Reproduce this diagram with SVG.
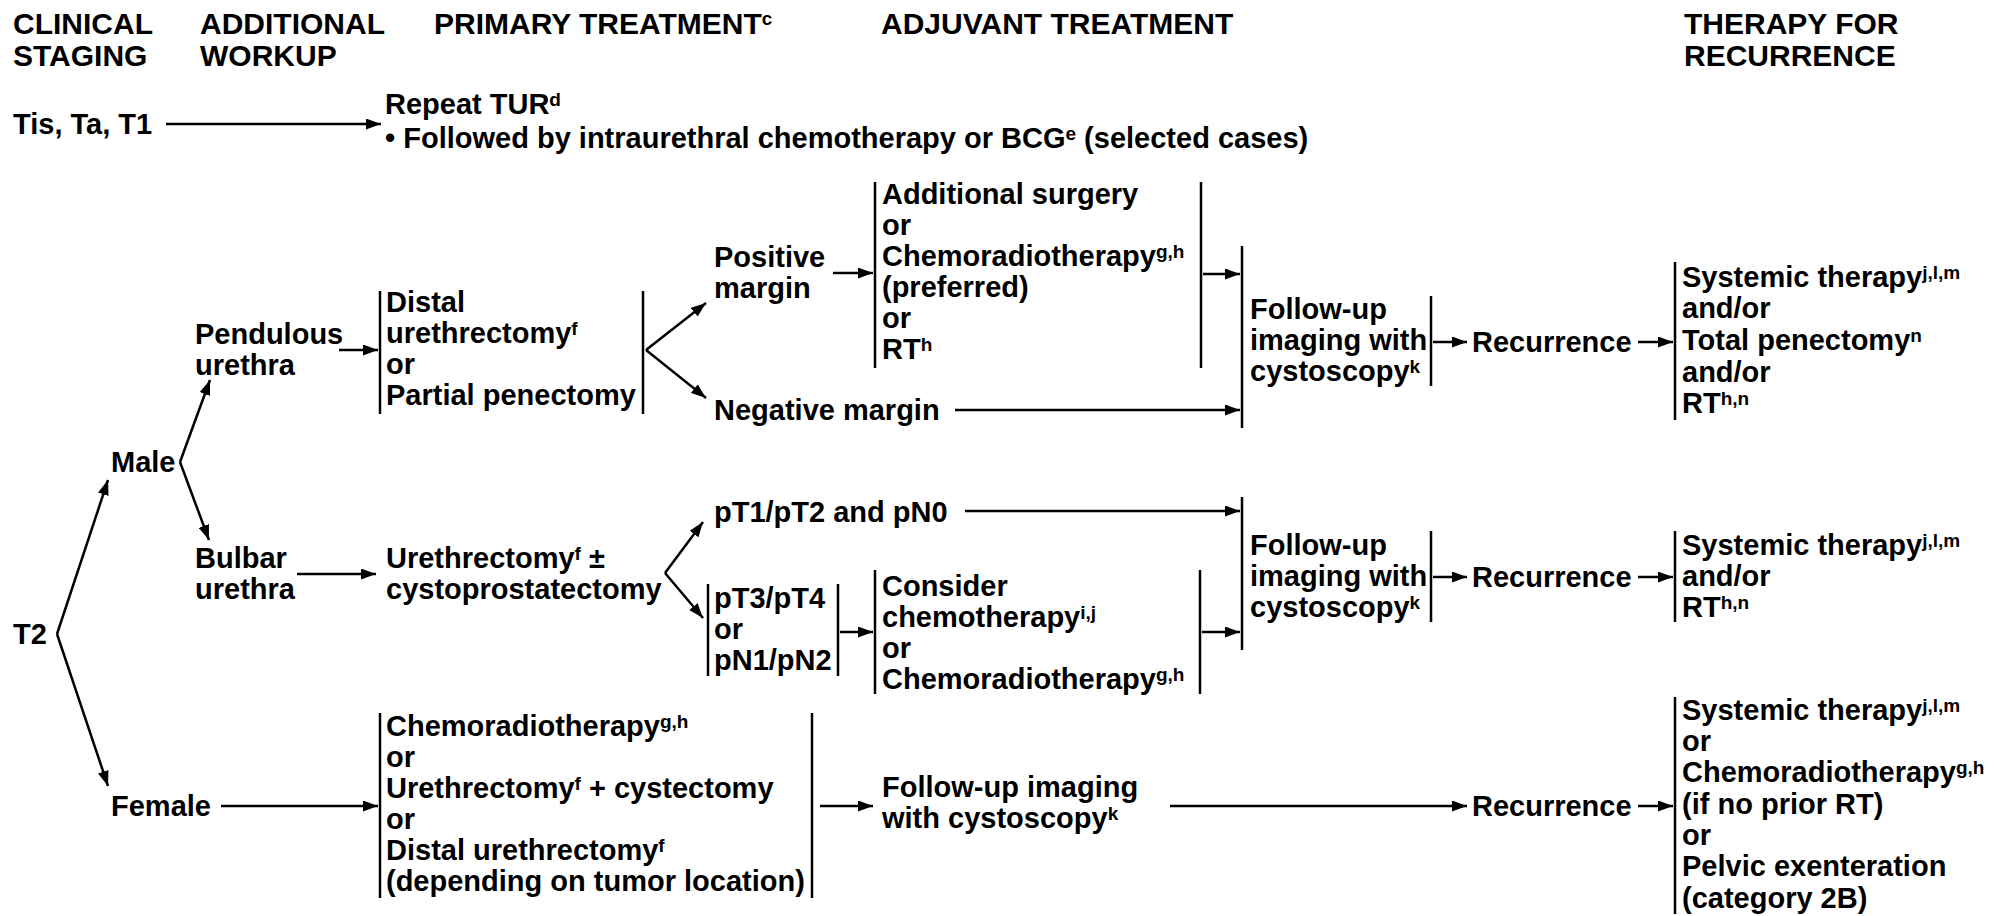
<svg xmlns="http://www.w3.org/2000/svg" width="1997" height="916" viewBox="0 0 1997 916">
<defs>
<style>
text { font-family: "Liberation Sans", Arial, Helvetica, sans-serif; font-weight: bold; font-size: 29px; fill: #000; }
.h { font-size: 30px; }
.s { font-size: 19px; }
.bar { stroke: #000; stroke-width: 2.5; fill: none; }
#connectors line { stroke: #000; stroke-width: 2.5; fill: none; marker-end: url(#ah); }
</style>
<marker id="ah" markerUnits="userSpaceOnUse" markerWidth="15" markerHeight="11" refX="15" refY="5.5" orient="auto">
<path d="M0,0 L15,5.5 L0,11 z" fill="#000"/>
</marker>
</defs>
<rect width="1997" height="916" fill="#fff"/>

<g id="headers">
<text class="h" x="13" y="34">CLINICAL</text>
<text class="h" x="13" y="66">STAGING</text>
<text class="h" x="200" y="34">ADDITIONAL</text>
<text class="h" x="200" y="66">WORKUP</text>
<text class="h" x="434" y="34">PRIMARY TREATMENT<tspan class="s" dy="-9">c</tspan></text>
<text class="h" x="881" y="34">ADJUVANT TREATMENT</text>
<text class="h" x="1684" y="34">THERAPY FOR</text>
<text class="h" x="1684" y="66">RECURRENCE</text>
</g>

<g id="n-tis"><text x="13" y="134">Tis, Ta, T1</text></g>
<g id="n-repeat">
<text x="385" y="114">Repeat TUR<tspan class="s" dy="-8">d</tspan></text>
<text x="385" y="148">• Followed by intraurethral chemotherapy or BCG<tspan class="s" dy="-8">e</tspan><tspan dy="8"> (selected cases)</tspan></text>
</g>

<g id="n-t2"><text x="13" y="644">T2</text></g>
<g id="n-male"><text x="111" y="472">Male</text></g>
<g id="n-female"><text x="111" y="816">Female</text></g>

<g id="n-pendulous">
<text x="195" y="344">Pendulous</text>
<text x="195" y="375">urethra</text>
</g>
<g id="n-bulbar">
<text x="195" y="568">Bulbar</text>
<text x="195" y="599">urethra</text>
</g>

<g id="n-distal">
<line class="bar" x1="380" y1="291" x2="380" y2="414"/>
<line class="bar" x1="643" y1="291" x2="643" y2="414"/>
<text x="386" y="312">Distal</text>
<text x="386" y="343">urethrectomy<tspan class="s" dy="-8">f</tspan></text>
<text x="386" y="374">or</text>
<text x="386" y="405">Partial penectomy</text>
</g>

<g id="n-urethrectomy">
<text x="386" y="568">Urethrectomy<tspan class="s" dy="-8">f</tspan><tspan dy="8"> ±</tspan></text>
<text x="386" y="599">cystoprostatectomy</text>
</g>

<g id="n-female-tx">
<line class="bar" x1="380" y1="713" x2="380" y2="898"/>
<line class="bar" x1="812" y1="713" x2="812" y2="898"/>
<text x="386" y="736">Chemoradiotherapy<tspan class="s" dy="-8">g,h</tspan></text>
<text x="386" y="767">or</text>
<text x="386" y="798">Urethrectomy<tspan class="s" dy="-8">f</tspan><tspan dy="8"> + cystectomy</tspan></text>
<text x="386" y="829">or</text>
<text x="386" y="860">Distal urethrectomy<tspan class="s" dy="-8">f</tspan></text>
<text x="386" y="891">(depending on tumor location)</text>
</g>

<g id="n-positive">
<text x="714" y="267">Positive</text>
<text x="714" y="298">margin</text>
</g>
<g id="n-negative"><text x="714" y="420">Negative margin</text></g>

<g id="n-additional">
<line class="bar" x1="875" y1="182" x2="875" y2="368"/>
<line class="bar" x1="1201" y1="182" x2="1201" y2="368"/>
<text x="882" y="204">Additional surgery</text>
<text x="882" y="235">or</text>
<text x="882" y="266">Chemoradiotherapy<tspan class="s" dy="-8">g,h</tspan></text>
<text x="882" y="297">(preferred)</text>
<text x="882" y="328">or</text>
<text x="882" y="359">RT<tspan class="s" dy="-8">h</tspan></text>
</g>

<g id="n-pt1"><text x="714" y="522">pT1/pT2 and pN0</text></g>

<g id="n-pt3">
<line class="bar" x1="708" y1="584" x2="708" y2="676"/>
<line class="bar" x1="838" y1="584" x2="838" y2="676"/>
<text x="714" y="608">pT3/pT4</text>
<text x="714" y="639">or</text>
<text x="714" y="670">pN1/pN2</text>
</g>

<g id="n-consider">
<line class="bar" x1="875" y1="570" x2="875" y2="694"/>
<line class="bar" x1="1200" y1="570" x2="1200" y2="694"/>
<text x="882" y="596">Consider</text>
<text x="882" y="627">chemotherapy<tspan class="s" dy="-8">i,j</tspan></text>
<text x="882" y="658">or</text>
<text x="882" y="689">Chemoradiotherapy<tspan class="s" dy="-8">g,h</tspan></text>
</g>

<g id="n-followup1">
<line class="bar" x1="1242" y1="246" x2="1242" y2="428"/>
<line class="bar" x1="1431" y1="296" x2="1431" y2="386"/>
<text x="1250" y="319">Follow-up</text>
<text x="1250" y="350">imaging with</text>
<text x="1250" y="381">cystoscopy<tspan class="s" dy="-8">k</tspan></text>
</g>

<g id="n-followup2">
<line class="bar" x1="1242" y1="497" x2="1242" y2="650"/>
<line class="bar" x1="1431" y1="531" x2="1431" y2="622"/>
<text x="1250" y="555">Follow-up</text>
<text x="1250" y="586">imaging with</text>
<text x="1250" y="617">cystoscopy<tspan class="s" dy="-8">k</tspan></text>
</g>

<g id="n-followup3">
<text x="882" y="797">Follow-up imaging</text>
<text x="882" y="828">with cystoscopy<tspan class="s" dy="-8">k</tspan></text>
</g>

<g id="n-recurrence1"><text x="1472" y="352">Recurrence</text></g>
<g id="n-recurrence2"><text x="1472" y="587">Recurrence</text></g>
<g id="n-recurrence3"><text x="1472" y="816">Recurrence</text></g>

<g id="n-therapy1">
<line class="bar" x1="1675" y1="262" x2="1675" y2="420"/>
<text x="1682" y="287">Systemic therapy<tspan class="s" dy="-8">j,l,m</tspan></text>
<text x="1682" y="318">and/or</text>
<text x="1682" y="350">Total penectomy<tspan class="s" dy="-8">n</tspan></text>
<text x="1682" y="382">and/or</text>
<text x="1682" y="413">RT<tspan class="s" dy="-8">h,n</tspan></text>
</g>

<g id="n-therapy2">
<line class="bar" x1="1675" y1="531" x2="1675" y2="622"/>
<text x="1682" y="555">Systemic therapy<tspan class="s" dy="-8">j,l,m</tspan></text>
<text x="1682" y="586">and/or</text>
<text x="1682" y="617">RT<tspan class="s" dy="-8">h,n</tspan></text>
</g>

<g id="n-therapy3">
<line class="bar" x1="1675" y1="697" x2="1675" y2="914"/>
<text x="1682" y="720">Systemic therapy<tspan class="s" dy="-8">j,l,m</tspan></text>
<text x="1682" y="751">or</text>
<text x="1682" y="782">Chemoradiotherapy<tspan class="s" dy="-8">g,h</tspan></text>
<text x="1682" y="814">(if no prior RT)</text>
<text x="1682" y="845">or</text>
<text x="1682" y="876">Pelvic exenteration</text>
<text x="1682" y="908">(category 2B)</text>
</g>

<g id="connectors">
<line x1="166" y1="124" x2="381" y2="124"/>
<line x1="57" y1="634" x2="108" y2="480"/>
<line x1="57" y1="634" x2="108" y2="786"/>
<line x1="180" y1="462" x2="210" y2="380"/>
<line x1="180" y1="462" x2="209" y2="540"/>
<line x1="339" y1="350" x2="378" y2="350"/>
<line x1="646" y1="350" x2="706" y2="303"/>
<line x1="646" y1="350" x2="706" y2="398"/>
<line x1="833" y1="273" x2="873" y2="273"/>
<line x1="1203" y1="274" x2="1240" y2="274"/>
<line x1="955" y1="410" x2="1240" y2="410"/>
<line x1="1433" y1="342" x2="1467" y2="342"/>
<line x1="1638" y1="342" x2="1673" y2="342"/>
<line x1="297" y1="574" x2="376" y2="574"/>
<line x1="665" y1="573" x2="703" y2="522"/>
<line x1="665" y1="573" x2="703" y2="618"/>
<line x1="965" y1="511" x2="1240" y2="511"/>
<line x1="840" y1="632" x2="873" y2="632"/>
<line x1="1202" y1="632" x2="1240" y2="632"/>
<line x1="1433" y1="577" x2="1467" y2="577"/>
<line x1="1638" y1="577" x2="1673" y2="577"/>
<line x1="221" y1="806" x2="378" y2="806"/>
<line x1="820" y1="806" x2="873" y2="806"/>
<line x1="1170" y1="806" x2="1467" y2="806"/>
<line x1="1638" y1="806" x2="1673" y2="806"/>
</g>
</svg>
